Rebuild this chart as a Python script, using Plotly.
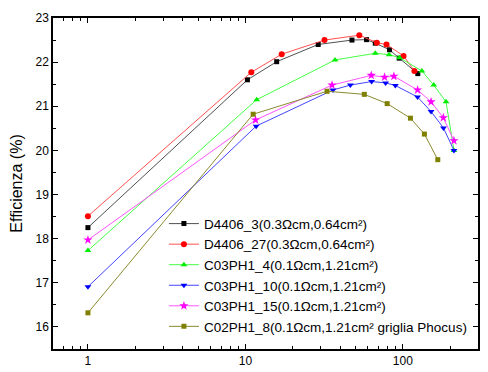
import plotly.graph_objects as go

# D4406_3
x_d3 = [1, 10.3, 15.8, 29, 47.5, 58.8, 66.8, 82.3, 94.8, 124.4]
y_d3 = [18.25, 21.6, 22.01, 22.4, 22.5, 22.51, 22.43, 22.28, 22.09, 21.74]
# D4406_27
x_d27 = [1, 10.9, 17, 31.8, 52.9, 68.4, 78.7, 101, 118.4]
y_d27 = [18.51, 21.77, 22.18, 22.5, 22.61, 22.44, 22.4, 22.14, 21.8]
# C03PH1_4
x_c4 = [1, 11.8, 37.1, 66.8, 81.8, 95.3, 132, 157, 188, 211]
y_c4 = [17.73, 21.15, 22.05, 22.2, 22.17, 22.1, 21.8, 21.48, 21.1, 20.0]
# C03PH1_10
x_c10 = [1, 11.7, 36, 46.4, 63.3, 77.7, 89.6, 124, 151, 181, 211]
y_c10 = [16.91, 20.55, 21.37, 21.48, 21.56, 21.53, 21.47, 21.21, 20.88, 20.51, 20.0]
# C03PH1_15
x_c15 = [1, 11.6, 35.5, 63, 76.5, 87.7, 124, 151, 180.7, 211]
y_c15 = [17.97, 20.69, 21.48, 21.7, 21.66, 21.68, 21.37, 21.1, 20.74, 20.22]
# C02PH1_8
x_c8 = [1, 11.2, 33, 56.9, 79.5, 111.7, 137, 166.6]
y_c8 = [16.32, 20.82, 21.34, 21.27, 21.06, 20.73, 20.37, 19.79]

names = [
    "D4406_3(0.3Ωcm,0.64cm²)",
    "D4406_27(0.3Ωcm,0.64cm²)",
    "C03PH1_4(0.1Ωcm,1.21cm²)",
    "C03PH1_10(0.1Ωcm,1.21cm²)",
    "C03PH1_15(0.1Ωcm,1.21cm²)",
    "C02PH1_8(0.1Ωcm,1.21cm² griglia Phocus)",
]

series = [
    (x_d3, y_d3, "#505050", "#000000", "square", 5),
    (x_d27, y_d27, "#ff5050", "#ff0000", "circle", 6),
    (x_c4, y_c4, "#44ff44", "#00ee00", "triangle-up", 6),
    (x_c10, y_c10, "#4444ff", "#0000ff", "triangle-down", 6),
    (x_c15, y_c15, "#ff55ff", "#ff00ff", "star", 7),
    (x_c8, y_c8, "#8a8a30", "#808000", "square", 5),
]

fig = go.Figure()
for (xs, ys, lc, mc, sym, ms), nm in zip(series, names):
    fig.add_trace(go.Scatter(
        x=xs, y=ys, mode="lines+markers", name=nm,
        line=dict(color=lc, width=1),
        marker=dict(color=mc, symbol=sym, size=ms, line=dict(width=0)),
    ))

axis_common = dict(
    showline=True, linecolor="black", linewidth=1.5, mirror="allticks",
    ticks="inside", ticklen=5, tickcolor="black", tickwidth=1, showgrid=False, zeroline=False,
    automargin=False,
    tickfont=dict(family="Liberation Sans, Arial", size=12, color="black"),
)

fig.update_xaxes(
    type="log", range=[-0.2218, 2.4771],
    tickvals=[1, 10, 100], ticktext=["1", "10", "100"],
    minor=dict(ticks="inside", ticklen=3, tickcolor="black", tickwidth=1,
               tickvals=[0.7, 0.8, 0.9, 2, 3, 4, 5, 6, 7, 8, 9, 20, 30, 40, 50, 60, 70, 80, 90, 200, 300]),
    **axis_common,
)
fig.update_yaxes(
    range=[15.5, 23], dtick=1,
    minor=dict(ticks="inside", ticklen=3, tickcolor="black", tickwidth=1, dtick=0.5),
    title=dict(text="Efficienza (%)", font=dict(family="Liberation Sans, Arial", size=16, color="black"), standoff=12),
    **axis_common,
)

# the page body adds an 8px offset; the figure is sized so that the plot lands where the reference has it
fig.update_layout(
    width=480, height=364,
    margin=dict(l=45, r=10, t=10, b=23),
    paper_bgcolor="white", plot_bgcolor="white",
    font=dict(family="Liberation Sans, Arial", color="black"),
    legend=dict(
        x=0.261, y=0.425, xanchor="left", yanchor="top",
        bgcolor="rgba(0,0,0,0)", borderwidth=0,
        font=dict(family="Liberation Sans, Arial", size=13.5, color="black"),
        tracegroupgap=0, itemwidth=30,
    ),
)

fig.write_html("out.html")
